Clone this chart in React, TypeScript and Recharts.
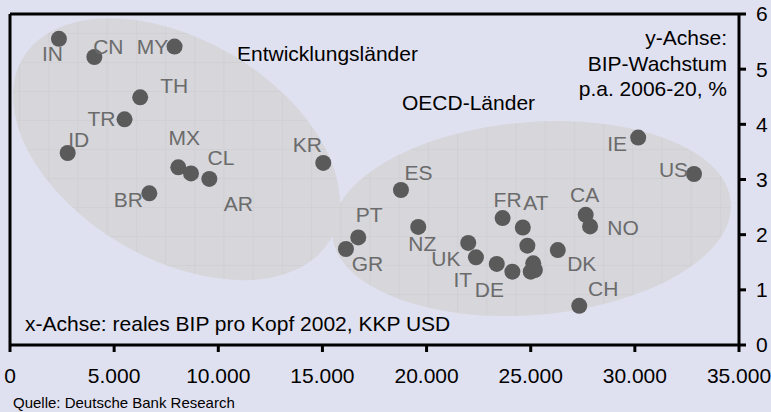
import { ReferenceArea, ReferenceLine, Scatter, ScatterChart, XAxis, YAxis } from "recharts";

// Schwellen- und Entwicklungsländer
const devCountries = ["IN", "CN", "MY", "TH", "TR", "ID", "MX", "CL", "AR", "BR", "KR"];
const devGdp2002 = [2350, 4050, 7900, 6250, 5500, 2770, 8080, 8690, 9570, 6690, 15040];
const devGrowth = [5.55, 5.22, 5.41, 4.49, 4.09, 3.48, 3.22, 3.11, 3.01, 2.75, 3.3];

// OECD-Länder ("" = Punkt ohne Beschriftung)
const oecdCountries = ["ES", "PT", "GR", "NZ", "", "UK", "IT", "DE", "FR", "AT", "", "", "", "", "DK", "CA", "NO", "CH", "IE", "US"];
const oecdGdp2002 = [18770, 16720, 16130, 19600, 22000, 22370, 23370, 24120, 23650, 24620, 24840, 25120, 25000, 25200, 26300, 27640, 27850, 27330, 30160, 32840];
const oecdGrowth = [2.81, 1.95, 1.74, 2.14, 1.85, 1.59, 1.47, 1.33, 2.3, 2.13, 1.8, 1.48, 1.33, 1.36, 1.72, 2.36, 2.15, 0.71, 3.76, 3.1];

const xTicks = [0, 5000, 10000, 15000, 20000, 25000, 30000, 35000];
const yTicks = [0, 1, 2, 3, 4, 5, 6];

// Beschriftung relativ zum Punkt: [dx Mitte, dy Grundlinie] in px
const labelOffset: Record<string, [number, number]> = {
  IN: [-6.5, 22], CN: [14, -3], MY: [-22, 7], TH: [34, -4], TR: [-23, 7], ID: [11, -6],
  MX: [6, -22], CL: [30, -8], AR: [29, 32], BR: [-21, 14], KR: [-16, -11],
  ES: [17.5, -10], PT: [11, -15], GR: [21.5, 22], NZ: [4, 24], UK: [-30, 9], IT: [-34, 23],
  DE: [-23, 25], FR: [5, -11], AT: [13, -17], DK: [24, 21], CA: [-1, -13], NO: [33, 9],
  CH: [24, -10], IE: [-21, 13], US: [-20.5, 3],
};

// Gruppen-Ellipsen: ungedrehter Rahmen in Datenkoordinaten + Drehwinkel
const groupEllipses = [
  { key: "dev", x1: -585, x2: 16565, y1: 1.565, y2: 5.535, angle: 30.6 },
  { key: "oecd", x1: 15440, x2: 34640, y1: 0.545, y2: 4.04, angle: -4.7 },
];

const toRows = (names: string[], xs: number[], ys: number[]) =>
  names.map((name, i) => ({ name, x: xs[i], y: ys[i] }));

const devData = toRows(devCountries, devGdp2002, devGrowth);
const oecdData = toRows(oecdCountries, oecdGdp2002, oecdGrowth);

const FONT = "'Liberation Sans', Arial, sans-serif";
const BG = "#e0e1f0";

const fmtDe = (v: number) => String(v).replace(/\B(?=(\d{3})+(?!\d))/g, ".");

function CountryDot(props: any) {
  const { cx, cy, payload } = props;
  const off = labelOffset[payload?.name];
  return (
    <g>
      <circle cx={cx} cy={cy} r={8} fill="#5a5a5a" />
      {off ? (
        <text x={cx + off[0]} y={cy + off[1]} textAnchor="middle" fontSize={21} fontFamily={FONT} fill="#6b6b6b">
          {payload.name}
        </text>
      ) : null}
    </g>
  );
}

// gedrehte Ellipse als Pfad mit Bogen-Rotation, damit das Rastermuster achsparallel bleibt
function EllipseShape(props: any) {
  const { x, y, width, height, angle } = props;
  const cx = x + width / 2;
  const cy = y + height / 2;
  const rx = width / 2;
  const ry = height / 2;
  const t = (angle * Math.PI) / 180;
  const ax = rx * Math.cos(t);
  const ay = rx * Math.sin(t);
  const d = `M${cx + ax} ${cy + ay} A${rx} ${ry} ${angle} 1 1 ${cx - ax} ${cy - ay} A${rx} ${ry} ${angle} 1 1 ${cx + ax} ${cy + ay}Z`;
  return <path d={d} fill="url(#ellipse-grid)" />;
}

export default function App() {
  return (
    <div style={{ position: "absolute", left: 0, top: 0, width: 771, height: 412, background: BG }}>
      <ScatterChart width={771} height={412} margin={{ top: 14, right: 0, bottom: 27, left: 10 }}>
        <defs>
          <pattern id="ellipse-grid" patternUnits="userSpaceOnUse" x={19} y={4} width={29.2} height={29}>
            <rect width={29.2} height={29} fill="#d6d6db" />
            <path d="M0 0.5H29.2M0.5 0V29" stroke="#d0d0d5" strokeWidth={1} />
          </pattern>
        </defs>
        {groupEllipses.map((e) => (
          <ReferenceArea
            key={e.key}
            x1={e.x1}
            x2={e.x2}
            y1={e.y1}
            y2={e.y2}
            ifOverflow="visible"
            shape={(p: any) => <EllipseShape {...p} angle={e.angle} />}
          />
        ))}
        <XAxis
          type="number"
          dataKey="x"
          domain={[0, 35000]}
          ticks={xTicks}
          tickFormatter={fmtDe}
          height={40}
          axisLine={{ stroke: "#000", strokeWidth: 3 }}
          tickLine={{ stroke: "#000", strokeWidth: 3 }}
          tickSize={7}
          tickMargin={16}
          tick={{ fill: "#000", fontSize: 21, fontFamily: FONT }}
          interval={0}
        />
        <YAxis
          type="number"
          dataKey="y"
          orientation="right"
          domain={[0, 6]}
          ticks={yTicks}
          width={32}
          axisLine={{ stroke: "#000", strokeWidth: 3 }}
          tickLine={{ stroke: "#000", strokeWidth: 3 }}
          tickSize={7}
          tickMargin={10}
          tick={{ fill: "#000", fontSize: 21, fontFamily: FONT }}
          interval={0}
        />
        <ReferenceLine y={6} stroke="#000" strokeWidth={3} />
        <ReferenceLine x={0} stroke="#000" strokeWidth={3} />
        <Scatter data={devData} shape={CountryDot} isAnimationActive={false} />
        <Scatter data={oecdData} shape={CountryDot} isAnimationActive={false} />
        <g fontFamily={FONT} fontSize={21} fill="#000">
          <text x={237} y={61}>Entwicklungsländer</text>
          <text x={402} y={110}>OECD-Länder</text>
          <text x={727} y={45} textAnchor="end">y-Achse:</text>
          <text x={727} y={70.5} textAnchor="end">BIP-Wachstum</text>
          <text x={727} y={96} textAnchor="end">p.a. 2006-20, %</text>
          <text x={25} y={331}>x-Achse: reales BIP pro Kopf 2002, KKP USD</text>
        </g>
        <text x={13} y={408} fontFamily={FONT} fontSize={15} fill="#000">
          Quelle: Deutsche Bank Research
        </text>
      </ScatterChart>
    </div>
  );
}
